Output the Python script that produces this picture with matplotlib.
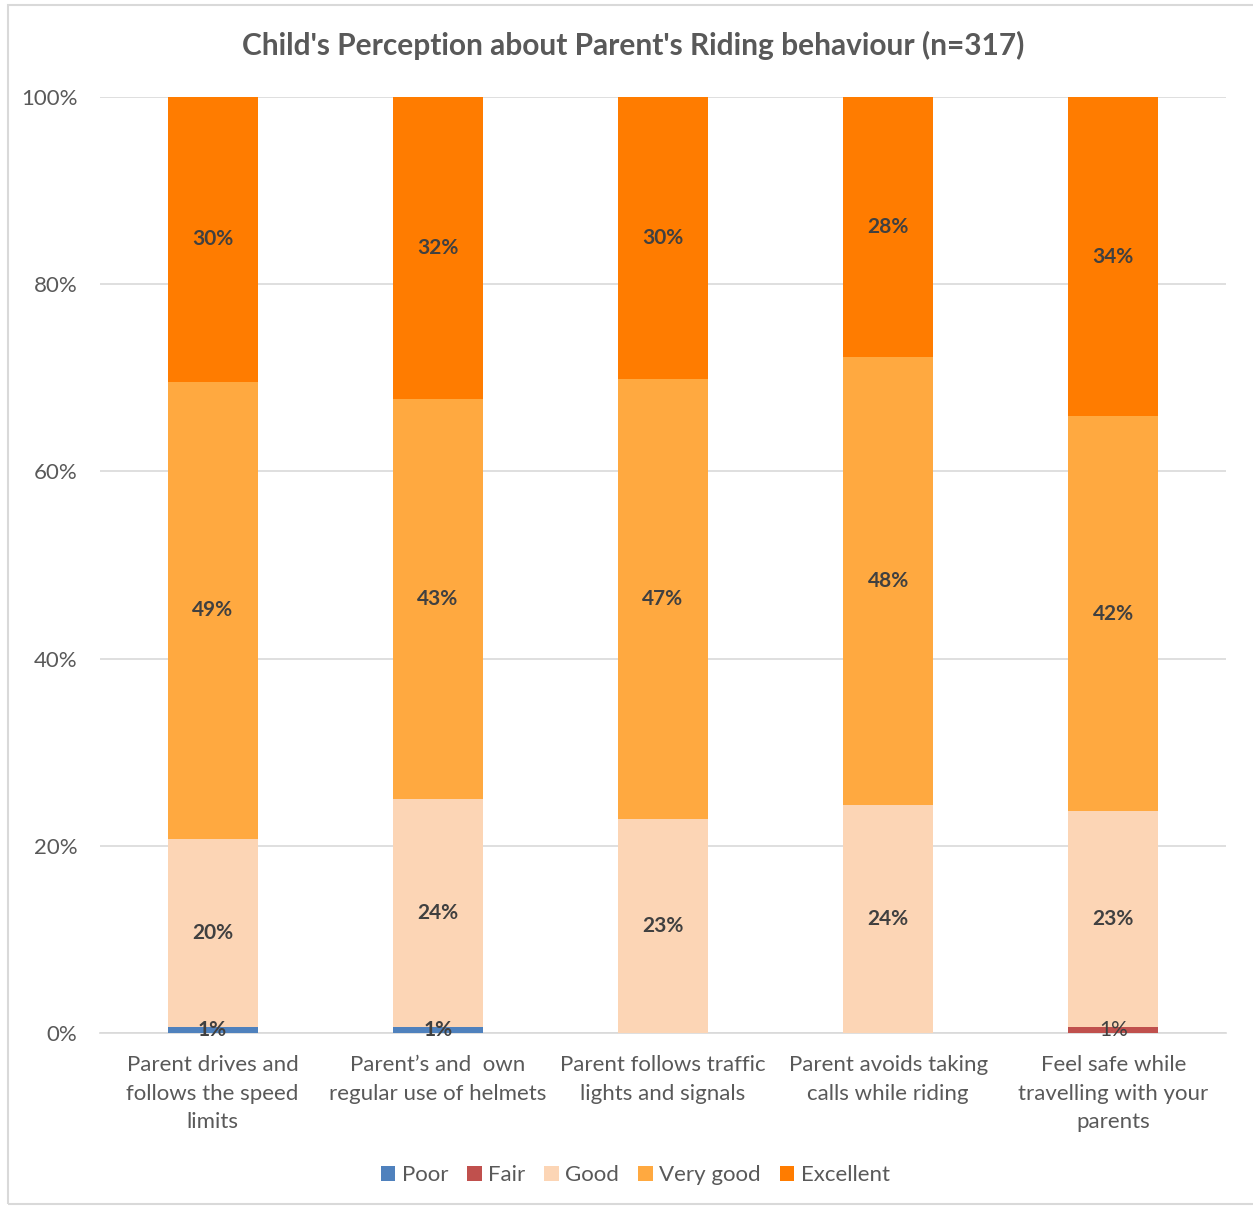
import numpy as np
import matplotlib.pyplot as plt
from matplotlib.patches import Rectangle

plt.rcParams['font.family'] = ['Lato', 'DejaVu Sans']

categories = ["Parent drives and\nfollows the speed\nlimits",
              "Parent\u2019s and  own\nregular use of helmets",
              "Parent follows traffic\nlights and signals",
              "Parent avoids taking\ncalls while riding",
              "Feel safe while\ntravelling with your\nparents"]
series = ["Poor", "Fair", "Good", "Very good", "Excellent"]
poor = [0.6, 0.6, 0.0, 0.0, 0.0]
fair = [0.0, 0.0, 0.0, 0.0, 0.6]
good = [20.1, 24.4, 22.9, 24.4, 23.1]
very_good = [48.9, 42.7, 47.0, 47.8, 42.2]
excellent = [30.4, 32.3, 30.1, 27.8, 34.1]
colors = ["#4F81BD", "#C0504D", "#FCD5B5", "#FFA940", "#FF7C00"]

fig = plt.figure(figsize=(12.53, 12.09), dpi=100)
ax = fig.add_axes([0.0798, 0.1456, 0.8986, 0.7742])

# light frame around the chart area
fig.patches.append(Rectangle((0.006, 0.004), 1.2, 0.992, transform=fig.transFigure,
                             fill=False, edgecolor="#D9D9D9", linewidth=1.5))

x = np.arange(len(categories))
bottom = np.zeros(len(categories))
for name, vals, col in zip(series, [poor, fair, good, very_good, excellent], colors):
    vals = np.array(vals)
    ax.bar(x, vals, 0.4, bottom=bottom, color=col, label=name, zorder=3)
    for xi, b, v in zip(x, bottom, vals):
        if v > 0:
            ax.text(xi, b + v / 2, f"{v:.0f}%", ha="center", va="center",
                    fontsize=15, color="#404040",
                    fontweight="normal" if name == "Fair" else "bold", zorder=4)
    bottom += vals

ax.set_xlim(-0.5, 4.5)
ax.set_ylim(0, 100)
ax.set_yticks(np.arange(0, 101, 20))
ax.set_yticklabels([f"{t}%" for t in range(0, 101, 20)])
ax.yaxis.grid(True, color="#D9D9D9", linewidth=1.2, zorder=0)
ax.set_xticks(x)
ax.set_xticklabels(categories, fontsize=16, color="#595959", linespacing=1.53)
ax.tick_params(axis="y", labelsize=16, labelcolor="#595959", length=0, pad=22)
ax.tick_params(axis="x", length=0, pad=16)
for lbl in ax.get_yticklabels():
    lbl.set_x(0.007)
for s in ["top", "right", "left"]:
    ax.spines[s].set_visible(False)
ax.spines["bottom"].set_color("#D9D9D9")
ax.spines["bottom"].set_linewidth(1.2)

fig.text(0.505, 0.962, "Child's Perception about Parent's Riding behaviour (n=317)",
         ha="center", va="center", fontsize=21.5, fontweight="bold", color="#595959")

fig.legend(loc="center", bbox_to_anchor=(0.507, 0.028), ncol=5, frameon=False,
           fontsize=16, labelcolor="#595959", handlelength=0.65, handleheight=0.65,
           handletextpad=0.3, columnspacing=0.85)

fig.savefig("out.png", dpi=100)
